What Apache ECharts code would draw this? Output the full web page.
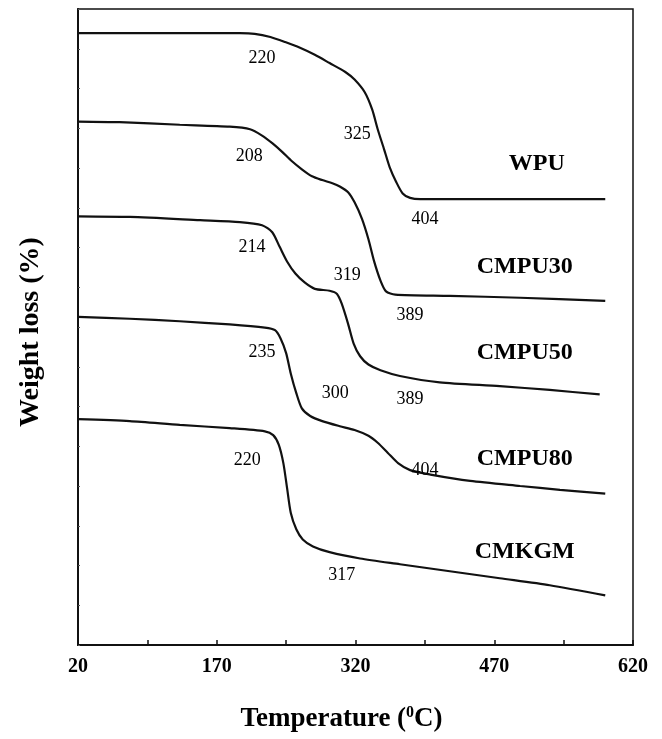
<!DOCTYPE html>
<html><head><meta charset="utf-8">
<script src="https://cdn.jsdelivr.net/npm/echarts@6/dist/echarts.min.js"></script>
<style>html,body{margin:0;padding:0;background:#fff}#c{width:662px;height:739px}</style>
</head><body><div id="c"></div>
<script>
// Temperature (°C) vs relative weight (arbitrary vertical units, curves offset)
const xTickLabels = [20, 170, 320, 470, 620];
const WPU = [[20,96.2],[195,96.2],[211,96.1],[228,95.6],[244,94.8],[260,93.9],[276,92.8],[292,91.5],[309,90.1],[319,88.9],[330,86.9],[338,84.2],[344,81.1],[351,77.9],[357,75.1],[364,72.8],[371,71.0],[379,70.3],[390,70.1],[590,70.1]];
const CMPU30 = [[20,82.3],[65,82.2],[130,81.8],[184,81.5],[206,81.1],[219,80.1],[230,78.9],[241,77.5],[251,76.1],[262,74.8],[273,73.7],[284,73.1],[295,72.6],[303,72.1],[312,71.2],[319,69.6],[327,67.0],[334,63.8],[340,60.4],[347,57.3],[353,55.6],[363,55.1],[422,54.9],[498,54.6],[590,54.1]];
const CMPU50 = [[20,67.4],[76,67.3],[152,66.8],[195,66.5],[219,66.0],[230,64.9],[238,62.6],[246,60.3],[255,58.4],[265,57.0],[276,56.0],[292,55.7],[300,55.2],[305,53.7],[312,50.5],[318,47.4],[325,45.4],[334,44.1],[347,43.2],[368,42.3],[411,41.3],[476,40.7],[530,40.1],[584,39.4]];
const CMPU80 = [[20,51.6],[76,51.3],[130,50.9],[184,50.4],[222,49.9],[233,49.5],[239,48.2],[245,45.9],[250,42.7],[256,39.6],[262,37.2],[271,36.0],[284,35.2],[303,34.4],[319,33.8],[334,32.9],[344,31.8],[355,30.2],[366,28.6],[379,27.5],[401,26.8],[444,25.8],[498,25.0],[541,24.4],[590,23.8]];
const CMKGM = [[20,35.5],[76,35.2],[130,34.6],[184,34.1],[222,33.6],[231,33.0],[237,31.5],[242,28.6],[246,24.7],[250,20.8],[256,18.2],[263,16.6],[274,15.5],[292,14.6],[325,13.6],[368,12.7],[422,11.6],[476,10.5],[530,9.4],[590,7.8]];
const numberNotes = [['220',219,92.3],['208',205,76.8],['325',322,80.3],['404',395,67.0],['214',208,62.6],['319',311,58.2],['389',379,51.9],['235',219,46.0],['300',298,39.6],['389',379,38.6],['220',203,29.0],['404',395,27.5],['317',305,10.9]];
const nameNotes = [['WPU',516,75.6],['CMPU30',503,59.5],['CMPU50',503,45.9],['CMPU80',503,29.2],['CMKGM',503,14.6]];

const serif = '"Liberation Serif","DejaVu Serif",serif';
const curves = {WPU, CMPU30, CMPU50, CMPU80, CMKGM};
const lineSeries = Object.keys(curves).map(k => ({
  name: k, type: 'line', data: curves[k], showSymbol: false, smooth: 0.25,
  lineStyle: {color: '#111', width: 2.2}, z: 3
}));
const noteSeries = (arr, font) => ({
  type: 'scatter', symbolSize: 0, silent: true, z: 5,
  itemStyle: {opacity: 1},
  data: arr.map(a => [a[1], a[2], a[0]]),
  label: {show: true, position: 'inside', opacity: 1, formatter: p => p.data[2], color: '#000', ...font}
});

const chart = echarts.init(document.getElementById('c'));
chart.setOption({
  backgroundColor: '#fff',
  animation: false,
  grid: {left: 78, right: 29, top: 9, bottom: 94, show: true, borderColor: '#111', borderWidth: 1.5, backgroundColor: 'transparent'},
  xAxis: {
    type: 'value', min: 20, max: 620, interval: 75,
    name: '{t|Temperature (}{s|0}{t|C)}', nameLocation: 'middle', nameGap: 60,
    nameTextStyle: {padding: [0, 28, 0, 0], rich: {
      t: {fontFamily: serif, fontWeight: 'bold', fontSize: 27, color: '#000'},
      s: {fontFamily: serif, fontWeight: 'bold', fontSize: 16, color: '#000', padding: [0, 0, 12, 0]}
    }},
    axisLine: {lineStyle: {color: '#111', width: 2}},
    axisTick: {inside: true, length: 5, lineStyle: {color: '#111', width: 1.5}},
    splitLine: {show: false},
    axisLabel: {margin: 12, fontFamily: serif, fontWeight: 'bold', fontSize: 20, color: '#000',
      formatter: v => xTickLabels.includes(v) ? String(v) : ''}
  },
  yAxis: {
    type: 'value', min: 0, max: 100, interval: 6.25,
    name: 'Weight loss (%)', nameLocation: 'middle', nameGap: 33,
    nameTextStyle: {fontFamily: serif, fontWeight: 'bold', fontSize: 28, color: '#000', padding: [0, 10, 0, 0]},
    axisLine: {lineStyle: {color: '#111', width: 2}},
    axisTick: {inside: true, length: 2, lineStyle: {color: '#555', width: 1}},
    axisLabel: {show: false},
    splitLine: {show: false}
  },
  series: [...lineSeries,
    noteSeries(numberNotes, {fontFamily: serif, fontSize: 18}),
    noteSeries(nameNotes, {fontFamily: serif, fontWeight: 'bold', fontSize: 24})]
});
</script></body></html>
